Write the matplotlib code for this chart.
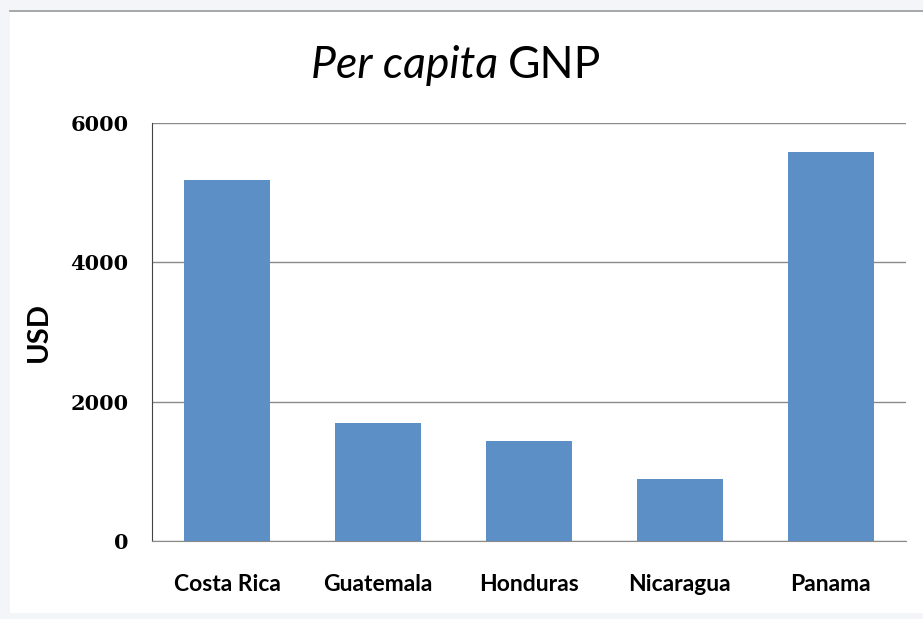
import matplotlib
matplotlib.use("Agg")
import matplotlib.pyplot as plt
from matplotlib.patches import Rectangle
from matplotlib.lines import Line2D

# Per capita GNP by country (USD)
countries = ["Costa Rica", "Guatemala", "Honduras", "Nicaragua", "Panama"]
gnp = [5180, 1690, 1440, 890, 5590]
y_ticks = [0, 2000, 4000, 6000]

bar_color = "#5b8fc6"
grid_color = "#8a8a8a"

fig = plt.figure(figsize=(9.23, 6.19), dpi=100, facecolor="#f3f5f9")

# white chart panel with a thin grey rule on top
fig.patches.append(Rectangle((10 / 923, 6 / 619), 1 - 10 / 923, 1 - 18 / 619,
                             transform=fig.transFigure, facecolor="white",
                             edgecolor="none", zorder=-5))
fig.lines.append(Line2D([10 / 923, 1], [1 - 11 / 619, 1 - 11 / 619],
                        transform=fig.transFigure, color="#9a9a9a", lw=1.2,
                        zorder=-4))

ax = fig.add_axes([152 / 923, 1 - 541 / 619, (906 - 152) / 923, (541 - 123) / 619])
ax.set_facecolor("none")

x = range(len(countries))
ax.bar(x, gnp, width=0.57, color=bar_color, zorder=3)

ax.set_xlim(-0.5, len(countries) - 0.5)
ax.set_ylim(0, 6000)
ax.set_yticks(y_ticks)
ax.set_yticklabels([str(v) for v in y_ticks], fontfamily="DejaVu Serif",
                   fontweight="bold", fontsize=15)
ax.set_xticks(list(x))
ax.set_xticklabels(countries, fontfamily="Lato", fontweight="bold", fontsize=16.5)
ax.tick_params(axis="both", length=0)
ax.tick_params(axis="y", pad=17)
ax.tick_params(axis="x", pad=24)

ax.yaxis.grid(True, color=grid_color, lw=1.0, zorder=0)
for s in ["top", "right"]:
    ax.spines[s].set_visible(False)
ax.spines["left"].set_color("#444444")
ax.spines["bottom"].set_color(grid_color)

ax.set_ylabel("USD", fontfamily="Lato", fontweight="bold", fontsize=21, labelpad=13)

# title: italic part + upright part side by side, centred together
ty = 1 - 66 / 619
t1 = fig.text(0.5, ty, "Per capita ", ha="right", va="center",
              fontfamily="Lato", fontstyle="italic", fontsize=32)
t2 = fig.text(0.5, ty, "GNP", ha="left", va="center",
              fontfamily="Lato", fontsize=32)
fig.canvas.draw()
w1 = t1.get_window_extent().width
w2 = t2.get_window_extent().width
cx = 456 / 923 + (w1 - w2) / 2 / fig.bbox.width
t1.set_x(cx)
t2.set_x(cx)

fig.savefig("out.png", dpi=100, facecolor=fig.get_facecolor())
